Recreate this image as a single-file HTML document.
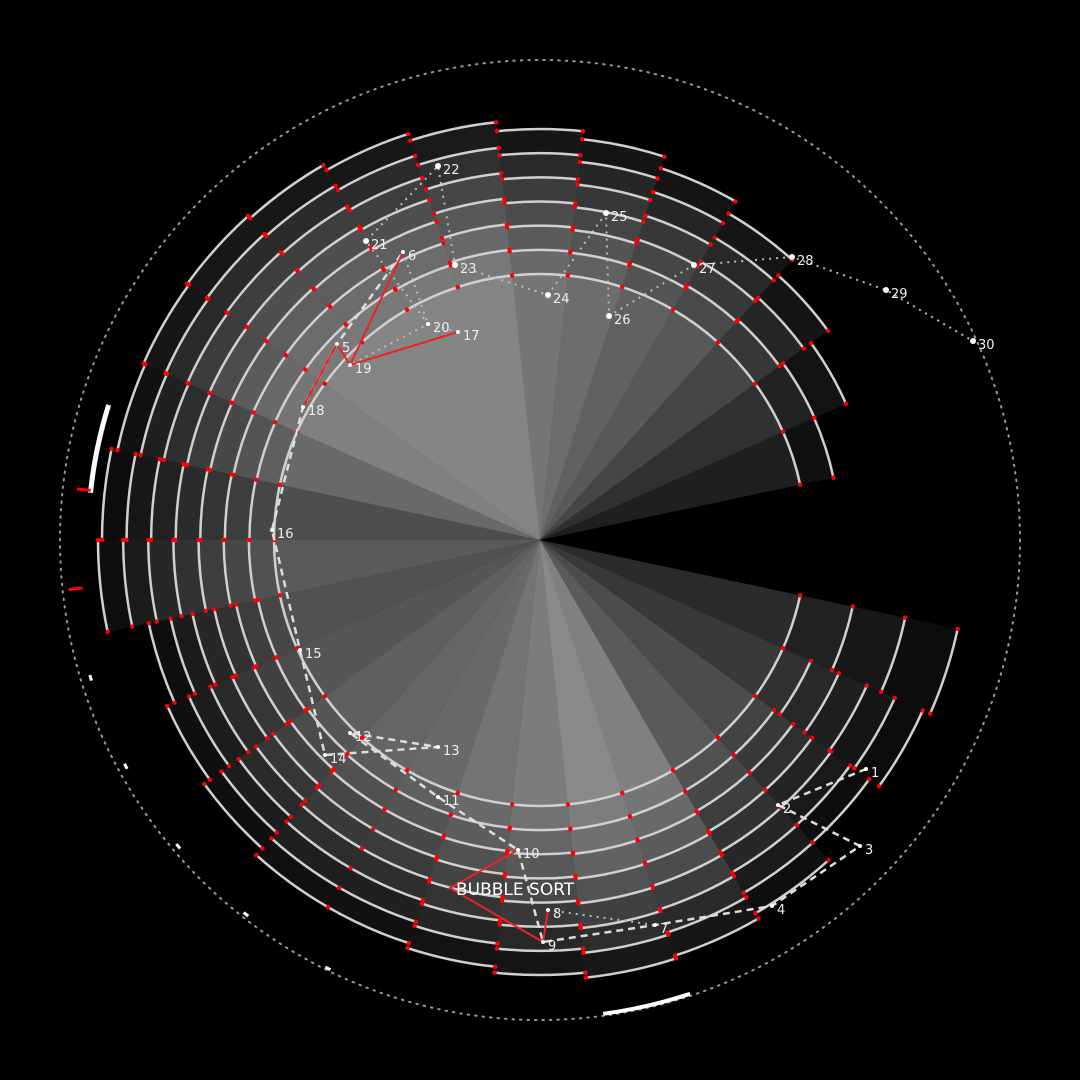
<!DOCTYPE html>
<html><head><meta charset="utf-8"><style>
html,body{margin:0;padding:0;background:#000;}
svg{display:block;font-family:"DejaVu Sans","Liberation Sans",sans-serif;}
</style></head><body>
<svg id="chart" width="1080" height="1080" viewBox="0 0 1080 1080">
<rect width="1080" height="1080" fill="#000"/>
<g id="slices"></g>
<g id="arcs"></g>
<circle cx="540" cy="540" r="480" fill="none" stroke="#999" stroke-width="2" stroke-dasharray="1.5 6" stroke-linecap="round"/>
<g id="extras"></g>
<g id="path"></g>
<text x="456" y="895" fill="#fff" font-size="17">BUBBLE SORT</text>
</svg>
<script>
const sliceStarts=[12,24,36,48,60,72,84,96,108,120,132,144,156,168,180,192,204,216,228,240,252,264,276,288,300,312,324,336];
const sliceOuter=[427,419,407,431,437,440,435,429,424,424,415,408,400,442,438,432,434,436,433,427,420,411,403,391,377,356,335,300];
const sliceLayers=[4,6,7,8,8,8,8,8,8,8,8,7,7,8,8,8,8,8,8,8,7,7,7,6,5,4,3,2];
const sliceInner=[45,60,80,90,130,140,125,120,110,105,95,90,85,90,80,110,130,135,135,135,135,120,110,100,90,70,50,30];
const pointLabels=["1","2","3","4","5","6","7","8","9","10","11","12","13","14","15","16","17","18","19","20","21","22","23","24","25","26","27","28","29","30"];
const pointX=[866,778,860,772,337,403,655,548,543,518,438,350,438,325,300,272,458,303,350,428,366,438,455,548,606,609,694,792,886,973];
const pointY=[769,805,846,906,344,252,925,910,942,850,797,733,747,755,650,530,332,407,365,324,241,166,265,295,213,316,265,257,290,341];
const dashedSeq=[1,2,3,4,7,9,10,11,12,13,14,15,16,18,5,6];
const dottedSeq=[6,20,17,19,20,21,22,23,24,25,26,27,28,29,30];
const dottedSeq2=[8,7];
const redSeq=[18,5,19,6];
const redSeq2=[19,17];
const NS="http://www.w3.org/2000/svg";
const CX=540,CY=540,R0=266,SW=12;
function px(a,r){return CX+r*Math.cos(a*Math.PI/180);}
function py(a,r){return CY+r*Math.sin(a*Math.PI/180);}
function sector(a0,a1,r){return `M${CX},${CY}L${px(a0,r)},${py(a0,r)}A${r},${r} 0 0 1 ${px(a1,r)},${py(a1,r)}Z`;}
function arc(a0,a1,r){return `M${px(a0,r)},${py(a0,r)}A${r},${r} 0 0 1 ${px(a1,r)},${py(a1,r)}`;}
const gS=document.getElementById('slices'),gA=document.getElementById('arcs');
sliceStarts.forEach((a0,i)=>{
  const a1=a0+SW,n=sliceLayers[i],out=sliceOuter[i];
  const alpha=1-Math.pow(1-sliceInner[i]/255,1/n);
  for(let k=0;k<n;k++){
    const r=n>1?R0+(out-R0)*k/(n-1):out;
    const p=document.createElementNS(NS,'path');
    p.setAttribute('d',sector(a0,a1,r));
    p.setAttribute('fill','rgba(255,255,255,'+alpha.toFixed(3)+')');
    
    
    gS.appendChild(p);
    const ap=document.createElementNS(NS,'path');
    ap.setAttribute('d',arc(a0,a1,r));
    ap.setAttribute('fill','none');ap.setAttribute('stroke','#d0d0d0');ap.setAttribute('stroke-width','2.5');
    
    
    gA.appendChild(ap);
    [a0,a1].forEach(a=>{
      const c=document.createElementNS(NS,'circle');
      c.setAttribute('cx',px(a,r));c.setAttribute('cy',py(a,r));c.setAttribute('r','2.2');c.setAttribute('fill','#f00');
      
      
      gA.appendChild(c);
    });
  }
});
const gE=document.getElementById('extras');
function thick(a0,a1,r,w){const p=document.createElementNS(NS,'path');p.setAttribute('d',arc(a0,a1,r));p.setAttribute('fill','none');p.setAttribute('stroke','#fff');p.setAttribute('stroke-width',w);


gE.appendChild(p);}
thick(186,197.4,452,5);
thick(71.7,82.4,478,4);
[[162.6,470],[151,472],[139.4,474],[127.8,476],[116,478]].forEach(([a,r])=>thick(a,a+0.7,r,3));
[[186.3,460],[174,468]].forEach(([a,r])=>{const l=document.createElementNS(NS,'path');l.setAttribute('d',`M${px(a,r-8)},${py(a,r-8)}L${px(a,r+6)},${py(a,r+6)}`);l.setAttribute('stroke','#f00');l.setAttribute('stroke-width','3');


gE.appendChild(l);});
const gP=document.getElementById('path');
function poly(seq,stroke,dash,w,name){const pts=seq.map(s=>pointX[s-1]+','+pointY[s-1]).join(' ');const pl=document.createElementNS(NS,'polyline');pl.setAttribute('points',pts);pl.setAttribute('fill','none');pl.setAttribute('stroke',stroke);pl.setAttribute('stroke-width',w);if(dash)pl.setAttribute('stroke-dasharray',dash);


gP.appendChild(pl);}
poly(dashedSeq,'#ddd','7 5','2.5','dashed-path');
poly(dottedSeq,'#bbb','2 5','2','dotted-path');
poly(dottedSeq2,'#bbb','2 5','2','dotted-path-2');
poly(redSeq,'#e22',null,'2','red-path');
poly(redSeq2,'#e22',null,'2','red-path-2');
const rp=document.createElementNS(NS,'polyline');
rp.setAttribute('points',`${pointX[9]},${pointY[9]} 450,888 ${pointX[8]},${pointY[8]} ${pointX[7]},${pointY[7]}`);
rp.setAttribute('fill','none');rp.setAttribute('stroke','#e22');rp.setAttribute('stroke-width','2');


gP.appendChild(rp);
pointLabels.forEach((lab,i)=>{
  const c=document.createElementNS(NS,'circle');
  c.setAttribute('cx',pointX[i]);c.setAttribute('cy',pointY[i]);c.setAttribute('r',i>=20?'3':'2');c.setAttribute('fill','#fff');
  
  
  gP.appendChild(c);
  const t=document.createElementNS(NS,'text');
  t.setAttribute('x',pointX[i]+5);t.setAttribute('y',pointY[i]+8);t.setAttribute('fill','#eee');t.setAttribute('font-size','13');
  t.textContent=lab;
  
  
  gP.appendChild(t);
});
</script>
</body></html>
